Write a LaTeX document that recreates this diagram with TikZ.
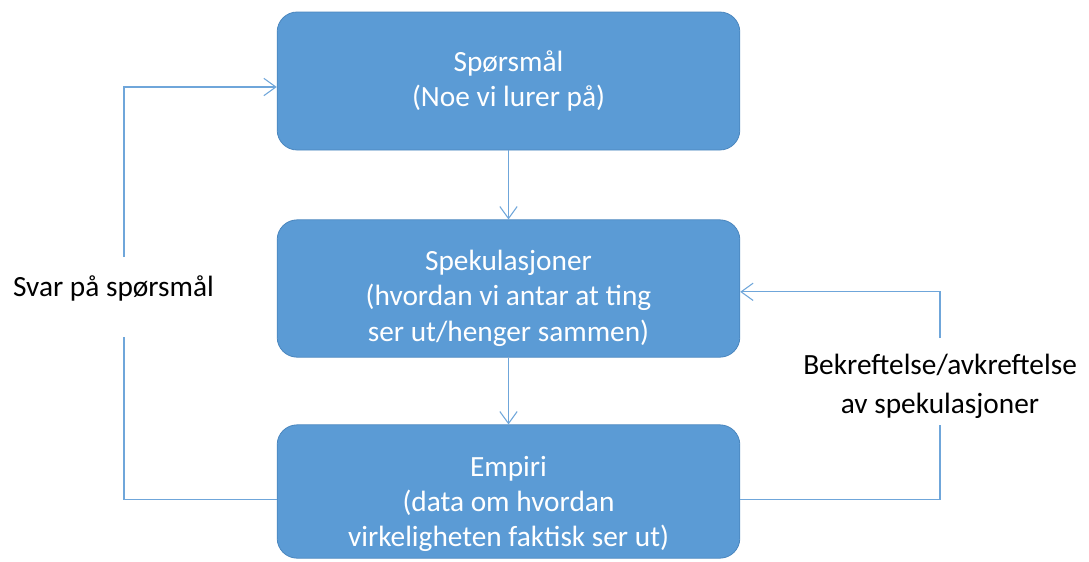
\documentclass[tikz,border=0pt]{standalone}
\usepackage{fontspec}
\setmainfont{Carlito}
\usetikzlibrary{arrows.meta}
\definecolor{boxfill}{HTML}{5B9BD5}
\definecolor{boxedge}{HTML}{4A86BE}
\definecolor{linkblue}{HTML}{6FA6DA}
\newcommand\topgap[1]{\rule{0pt}{#1}}
\begin{document}
\begin{tikzpicture}[
			x=0.75pt, y=-0.75pt,
			box/.style={rectangle, rounded corners=15pt, draw=boxedge, fill=boxfill, line width=0.6pt,
				minimum width=347pt, text=white, align=center,
				font=\fontsize{22}{26.5}\selectfont},
			arrow/.style={-{Straight Barb[length=9pt,width=13pt,line width=0.8pt]}, draw=linkblue, line width=0.9pt},
			line/.style={-, draw=linkblue, line width=0.9pt},
			lbl/.style={align=center, font=\fontsize{22}{29}\selectfont}
		]
		\useasboundingbox (0,0) rectangle (1089,561);

		% Boxes
		\node[box, minimum height=103.5pt] (spm) at (508.5,81) {Spørsmål\\(Noe vi lurer på)};
		\node[box, minimum height=103pt] (spek) at (508.5,288.5) {\topgap{30pt}Spekulasjoner\\(hvordan vi antar at ting\\ser ut/henger sammen)};
		\node[box, minimum height=100pt] (emp) at (508.5,491.5) {\topgap{34pt}Empiri\\(data om hvordan\\virkeligheten faktisk ser ut)};

		% Labels
		\node[lbl] (svar) at (113.5,288) {Svar på spørsmål};
		\node[lbl] (bekr) at (940,386) {Bekreftelse/avkreftelse\\av spekulasjoner};

		% Gaps round the labels
		\coordinate (l1) at (124,337);
		\coordinate (l2) at (124,257);
		\coordinate (r1) at (940,425);
		\coordinate (r2) at (940,338);

		% Links
		\draw[arrow] (spm) -- (spek);
		\draw[arrow] (spek) -- (emp);
		\draw[line] ([yshift=-6pt]emp.west) -| (l1);
		\draw[arrow] (l2) |- ([yshift=-4.5pt]spm.west);
		\draw[line] ([yshift=-6pt]emp.east) -| (r1);
		\draw[arrow] (r2) |- ([yshift=-2.5pt]spek.east);

	\end{tikzpicture}
\end{document}
